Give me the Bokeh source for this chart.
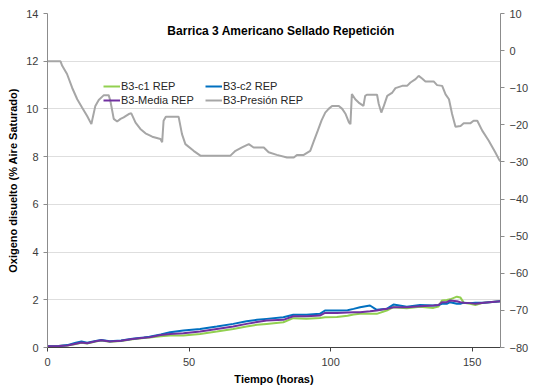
from bokeh.plotting import figure
from bokeh.models import Range1d, LinearAxis, Legend, LegendItem, Label, FixedTicker
from bokeh.embed import file_html
from bokeh.resources import INLINE

# ---- data ----
t_oxy = [0, 4, 7, 10, 12, 14, 17, 19, 22, 26, 30, 34, 36, 40, 43.3, 48, 53.9, 59.8, 65.6,
         70.3, 74, 77.4, 83.3, 86.8, 91.5, 96.2, 98, 102.2, 106, 108.1, 110.4, 113.9, 116.3,
         119.8, 122.2, 126.9, 131.6, 136.3, 138.1, 139.3, 141, 142.2, 144.6, 145.8, 147,
         149.3, 151.1, 154.1, 157, 160]
c1_rep = [0.05, 0.06, 0.08, 0.15, 0.20, 0.17, 0.25, 0.29, 0.24, 0.27, 0.35, 0.40, 0.42, 0.47,
          0.50, 0.50, 0.57, 0.67, 0.78, 0.88, 0.95, 0.99, 1.06, 1.23, 1.20, 1.24, 1.27, 1.28,
          1.33, 1.38, 1.41, 1.41, 1.41, 1.55, 1.69, 1.64, 1.71, 1.66, 1.72, 1.97, 1.99, 2.02,
          2.13, 2.10, 1.88, 1.83, 1.78, 1.88, 1.91, 1.94]
c2_rep = [0.05, 0.06, 0.10, 0.20, 0.25, 0.20, 0.27, 0.31, 0.26, 0.29, 0.37, 0.42, 0.45, 0.55,
          0.64, 0.71, 0.78, 0.88, 0.99, 1.10, 1.16, 1.20, 1.27, 1.37, 1.37, 1.41, 1.55, 1.55,
          1.56, 1.62, 1.69, 1.76, 1.58, 1.62, 1.80, 1.71, 1.78, 1.76, 1.78, 1.83, 1.83, 1.90,
          1.83, 1.83, 1.88, 1.86, 1.88, 1.88, 1.91, 1.94]
media_rep = [0.05, 0.06, 0.08, 0.16, 0.21, 0.18, 0.26, 0.30, 0.25, 0.28, 0.36, 0.41, 0.43, 0.52,
             0.57, 0.60, 0.67, 0.78, 0.88, 0.99, 1.07, 1.13, 1.16, 1.31, 1.31, 1.34, 1.45, 1.45,
             1.47, 1.48, 1.48, 1.52, 1.55, 1.62, 1.69, 1.69, 1.73, 1.76, 1.78, 1.90, 1.90, 1.97,
             1.94, 1.90, 1.88, 1.86, 1.83, 1.88, 1.91, 1.94]

t_pres = [0, 4.6, 5.2, 6.9, 8.7, 10.5, 12.2, 14.0, 15.5, 16.0, 16.9, 18.1, 19.9, 21.6, 22.2,
          23.4, 24.6, 25.8, 26.9, 28.7, 29.6, 31.1, 32.8, 34.6, 37.0, 39.9, 40.5, 41.0, 41.8,
          46.3, 47.5, 48.7, 51.6, 54.0, 64.6, 66.4, 68.7, 71.1, 72.8, 76.4, 78.1, 81.0, 84.6,
          87.0, 88.1, 90.5, 92.8, 94.0, 95.5, 96.8, 98.1, 99.3, 100.5, 102.9, 104.1, 105.3,
          106.5, 107.0, 107.5, 108.7, 109.9, 111.6, 112.2, 112.8, 116.4, 117.0, 117.9, 118.8,
          120.0, 121.8, 122.9, 125.3, 127.0, 128.2, 130.0, 131.1, 132.3, 133.5, 136.4, 137.6,
          139.4, 140.6, 141.8, 142.9, 144.1, 145.9, 147.0, 149.3, 150.5, 151.8, 153.5, 155.8,
          158.1, 159.6, 160]
presion_rep = [-2.9, -2.9, -4.1, -6.3, -10.0, -13.1, -15.3, -17.6, -19.8, -18.0, -14.9, -13.3,
               -12.0, -12.0, -13.5, -18.4, -19.1, -18.4, -18.0, -17.1, -16.9, -19.4, -21.1,
               -22.3, -23.2, -23.8, -24.7, -18.9, -17.8, -17.8, -22.5, -25.2, -27.0, -28.3,
               -28.3, -27.0, -26.1, -25.2, -26.1, -26.1, -27.4, -28.1, -28.8, -28.8, -28.1,
               -28.1, -27.0, -24.5, -21.5, -18.8, -16.7, -15.7, -14.9, -14.9, -15.7, -17.1,
               -19.4, -19.8, -11.7, -13.1, -14.0, -14.9, -12.2, -11.9, -11.9, -14.4, -16.7,
               -14.9, -12.2, -11.3, -10.1, -9.5, -9.5, -8.6, -7.7, -6.8, -7.5, -8.3, -8.3,
               -9.3, -9.5, -11.8, -13.1, -17.1, -20.5, -20.3, -19.6, -19.6, -18.9, -18.9,
               -21.5, -24.2, -27.3, -29.5, -29.8]

x_ticks = [0, 50, 100, 150]
y_ticks = [0, 2, 4, 6, 8, 10, 12, 14]
y2_ticks = [-80, -70, -60, -50, -40, -30, -20, -10, 0, 10]

title_text = "Barrica 3 Americano Sellado Repetición"
FONT = "Liberation Sans"
TICK_COLOR = "#3c3c3c"
AXIS_GRAY = "#8c8c8c"

p = figure(frame_width=453, frame_height=334, width=541, height=390,
           min_border_left=47, min_border_right=41, min_border_top=13, min_border_bottom=43,
           x_range=Range1d(0, 160), y_range=Range1d(0, 14),
           output_backend="svg", toolbar_location=None)
p.extra_y_ranges = {"pres": Range1d(-80, 10)}
p.outline_line_color = None
p.background_fill_color = "white"
p.border_fill_color = "white"

p.xgrid.visible = False
p.ygrid.grid_line_color = "#dedede"
p.ygrid.grid_line_width = 1
p.ygrid.ticker = FixedTicker(ticks=y_ticks)

# axes
p.xaxis.ticker = FixedTicker(ticks=x_ticks)
p.yaxis.ticker = FixedTicker(ticks=y_ticks)
for ax in (p.xaxis[0], p.yaxis[0]):
    ax.major_label_text_font = FONT
    ax.major_label_text_font_size = "11px"
    ax.major_label_text_color = TICK_COLOR
    ax.minor_tick_line_color = None
    ax.major_tick_in = 0
    ax.major_tick_out = 4
    ax.axis_label_text_font = FONT
    ax.axis_label_text_font_size = "11px"
    ax.axis_label_text_font_style = "bold"
    ax.axis_label_text_color = "black"
p.xaxis.axis_line_color = "#404040"
p.xaxis.major_tick_line_color = "#404040"
p.xaxis.major_label_standoff = 6
p.xaxis.axis_label = "Tiempo (horas)"
p.xaxis.axis_label_standoff = 4
p.yaxis.axis_line_color = AXIS_GRAY
p.yaxis.major_tick_line_color = AXIS_GRAY
p.yaxis.major_label_standoff = 5
p.yaxis.axis_label = "Oxigeno disuelto (% Aire Saturado)"
p.yaxis.axis_label_standoff = 4

ax2 = LinearAxis(y_range_name="pres", ticker=FixedTicker(ticks=y2_ticks))
ax2.major_label_text_font = FONT
ax2.major_label_text_font_size = "11px"
ax2.major_label_text_color = TICK_COLOR
ax2.minor_tick_line_color = None
ax2.major_tick_in = 0
ax2.major_tick_out = 4
ax2.major_label_standoff = 5
ax2.axis_line_color = AXIS_GRAY
ax2.major_tick_line_color = AXIS_GRAY
p.add_layout(ax2, "right")

# series
r1 = p.line(t_oxy, c1_rep, line_color="#92d050", line_width=2)
r2 = p.line(t_oxy, c2_rep, line_color="#0070c0", line_width=2)
r3 = p.line(t_oxy, media_rep, line_color="#7030a0", line_width=2)
r4 = p.line(t_pres, presion_rep, line_color="#a6a6a6", line_width=2, y_range_name="pres")

legend = Legend(items=[LegendItem(label="B3-c1 REP", renderers=[r1]),
                       LegendItem(label="B3-c2 REP", renderers=[r2]),
                       LegendItem(label="B3-Media REP", renderers=[r3]),
                       LegendItem(label="B3-Presión REP", renderers=[r4])],
                ncols=2, orientation="horizontal",
                location=(56, 240), padding=0, margin=0, spacing=0,
                glyph_width=17, glyph_height=14, label_height=14, label_width=84,
                label_standoff=1,
                label_text_font=FONT, label_text_font_size="11px", label_text_color="#262626",
                border_line_alpha=0, background_fill_alpha=0)
p.add_layout(legend, "center")

p.add_layout(Label(x=82.5, y=13.28, text=title_text, text_align="center", text_baseline="middle",
                   text_font=FONT, text_font_size="12px", text_font_style="bold",
                   text_color="black"))
p.add_layout(Label(x=172.7, y=7.1, text="Presión (hPa)", angle=1.5708,
                   text_align="center", text_baseline="middle",
                   text_font=FONT, text_font_size="11px", text_font_style="bold",
                   text_color="black"))

open("out.html", "w").write(file_html(p, INLINE))
